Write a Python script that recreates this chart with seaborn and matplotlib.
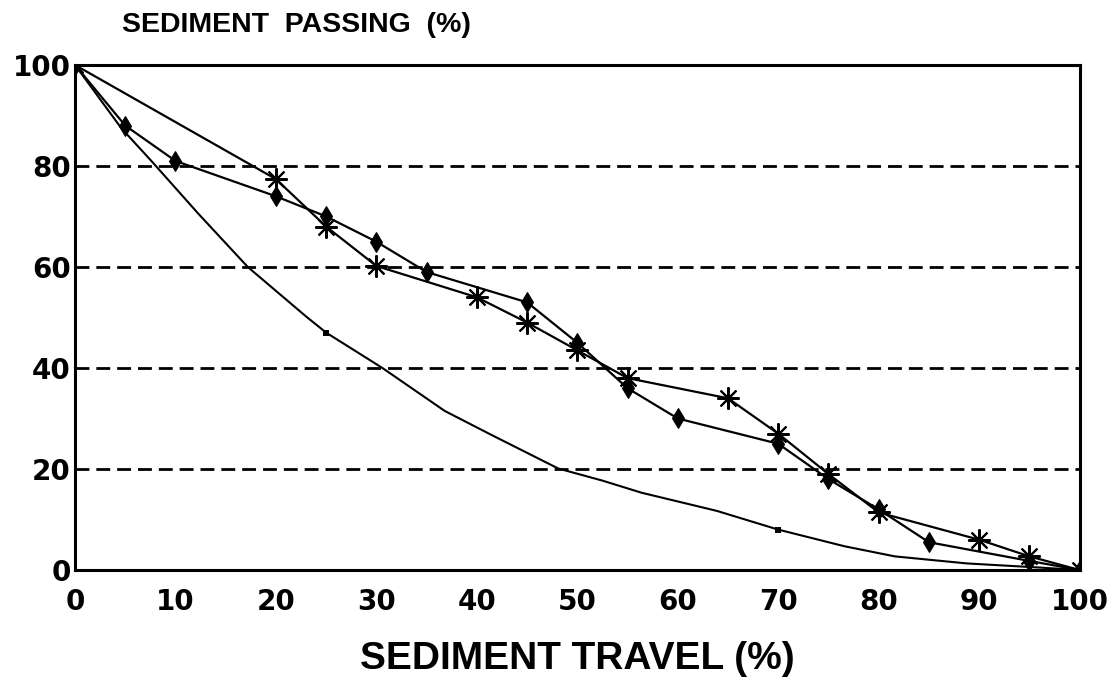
import numpy as np
import pandas as pd
import matplotlib
matplotlib.use("Agg")
import matplotlib.pyplot as plt
import seaborn as sns

# sediment travel (%) vs sediment passing (%)
diamond_x = [0, 5, 10, 20, 25, 30, 35, 45, 50, 55, 60, 70, 75, 80, 85, 95, 100]
diamond_y = [100, 88, 81, 74, 70, 65, 59, 53, 45, 36, 30, 25, 18, 12, 5.5, 1.8, 0]

star_x = [0, 20, 25, 30, 40, 45, 50, 55, 65, 70, 75, 80, 90, 95, 100]
star_y = [100, 77.4, 68, 60.2, 54, 49, 43.5, 38, 34, 27, 19, 11.4, 6, 2.7, 0]

curve_x = [0, 4.6, 7.6, 12.3, 17.2, 23, 25, 30.6, 36.8, 41.5, 44.8, 48.1,
           52.5, 56.4, 63.9, 70, 76.6, 81.6, 88.8, 95.9, 100]
curve_y = [100, 87.5, 81, 70.5, 60, 50.2, 47, 40, 31.5, 26.7, 23.4, 20.1,
           17.7, 15.3, 11.7, 8, 4.7, 2.7, 1.3, 0.5, 0]
curve_marked = [25, 70]

x_ticks = [0, 10, 20, 30, 40, 50, 60, 70, 80, 90, 100]
y_ticks = [0, 20, 40, 60, 80, 100]

sns.set_style("white")
plt.rcParams['font.family'] = ['Liberation Sans', 'DejaVu Sans']
plt.rcParams['font.weight'] = 'bold'
plt.rcParams['text.color'] = 'black'

fig = plt.figure(figsize=(11.13, 6.89), dpi=100)
ax = fig.add_axes([0.0674, 0.1727, 0.9026, 0.733])

df_d = pd.DataFrame({"x": diamond_x, "y": diamond_y})
df_s = pd.DataFrame({"x": star_x, "y": star_y})
df_c = pd.DataFrame({"x": curve_x, "y": curve_y})

sns.lineplot(data=df_c, x="x", y="y", ax=ax, color="black", linewidth=1.5,
             estimator=None, sort=False)
marked = df_c[df_c["x"].isin(curve_marked)]
sns.scatterplot(data=marked, x="x", y="y", ax=ax, color="black", marker="s",
                s=14, linewidth=0, zorder=4)

sns.lineplot(data=df_d, x="x", y="y", ax=ax, color="black", linewidth=1.6,
             marker="d", markersize=10, markeredgecolor="black",
             markerfacecolor="black", estimator=None, sort=False)
sns.lineplot(data=df_s, x="x", y="y", ax=ax, color="black", linewidth=1.6,
             marker=(8, 2, 0), markersize=16, markeredgewidth=1.5,
             markeredgecolor="black", estimator=None, sort=False)

ax.set_xlim(0, 100)
ax.set_ylim(0, 100)
ax.set_xticks(x_ticks)
ax.set_yticks(y_ticks)
tick_font = dict(fontsize=20, fontweight='bold', family='DejaVu Sans')
ax.set_xticklabels([str(t) for t in x_ticks], **tick_font)
ax.set_yticklabels([str(t) for t in y_ticks], **tick_font)
ax.tick_params(axis='x', direction='in', length=7, width=2, pad=13, colors='black')
ax.tick_params(axis='y', length=0, pad=3, colors='black')

for v in y_ticks[1:-1]:
    ax.axhline(v, color="black", linestyle=(0, (5, 2.5)), linewidth=2, zorder=1)

for sp in ax.spines.values():
    sp.set_visible(True)
    sp.set_color("black")
    sp.set_linewidth(2.2)

ax.set_xlabel("SEDIMENT TRAVEL (%)", fontsize=28, fontweight='bold',
              labelpad=18, color='black')
ax.set_ylabel("")
fig.text(0.11, 0.945, "SEDIMENT  PASSING  (%)", fontsize=20.5, fontweight='bold',
         ha='left', va='bottom', color='black')

fig.savefig("out.png", dpi=100)
